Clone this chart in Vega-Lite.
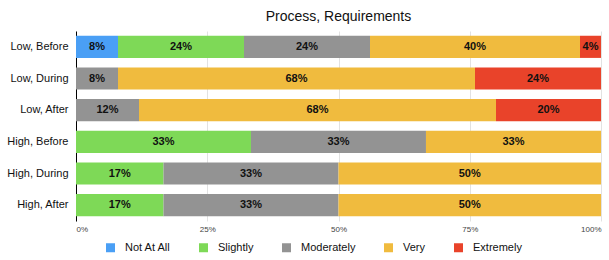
{
  "$schema": "https://vega.github.io/schema/vega-lite/v6.json",
  "width": 525,
  "height": 190,
  "autosize": {"type": "none"},
  "padding": {"left": 76, "right": 8, "top": 31, "bottom": 39},
  "background": "white",
  "config": {"view": {"stroke": null}, "font": "Liberation Sans"},
  "title": {"text": "Process, Requirements", "fontSize": 14, "fontWeight": "normal", "color": "#111", "offset": 7},
  "data": {"values": [
    {"group": "Low, Before", "level": "Not At All", "rank": 1, "value": 0.08},
    {"group": "Low, Before", "level": "Slightly", "rank": 2, "value": 0.24},
    {"group": "Low, Before", "level": "Moderately", "rank": 3, "value": 0.24},
    {"group": "Low, Before", "level": "Very", "rank": 4, "value": 0.40},
    {"group": "Low, Before", "level": "Extremely", "rank": 5, "value": 0.04},
    {"group": "Low, During", "level": "Moderately", "rank": 3, "value": 0.08},
    {"group": "Low, During", "level": "Very", "rank": 4, "value": 0.68},
    {"group": "Low, During", "level": "Extremely", "rank": 5, "value": 0.24},
    {"group": "Low, After", "level": "Moderately", "rank": 3, "value": 0.12},
    {"group": "Low, After", "level": "Very", "rank": 4, "value": 0.68},
    {"group": "Low, After", "level": "Extremely", "rank": 5, "value": 0.20},
    {"group": "High, Before", "level": "Slightly", "rank": 2, "value": 0.3333},
    {"group": "High, Before", "level": "Moderately", "rank": 3, "value": 0.3333},
    {"group": "High, Before", "level": "Very", "rank": 4, "value": 0.3334},
    {"group": "High, During", "level": "Slightly", "rank": 2, "value": 0.1667},
    {"group": "High, During", "level": "Moderately", "rank": 3, "value": 0.3333},
    {"group": "High, During", "level": "Very", "rank": 4, "value": 0.50},
    {"group": "High, After", "level": "Slightly", "rank": 2, "value": 0.1667},
    {"group": "High, After", "level": "Moderately", "rank": 3, "value": 0.3333},
    {"group": "High, After", "level": "Very", "rank": 4, "value": 0.50}
  ]},
  "transform": [
    {"stack": "value", "groupby": ["group"], "sort": [{"field": "rank", "order": "ascending"}], "as": ["v0", "v1"]},
    {"calculate": "(datum.v0 + datum.v1) / 2", "as": "mid"}
  ],
  "encoding": {
    "y": {
      "field": "group", "type": "nominal",
      "sort": ["Low, Before", "Low, During", "Low, After", "High, Before", "High, During", "High, After"],
      "scale": {"paddingInner": 0.3, "paddingOuter": 0.15},
      "axis": {"title": null, "ticks": false, "domainColor": "#000", "domainWidth": 1, "labelFontSize": 11, "labelColor": "#111", "labelPadding": 8}
    }
  },
  "layer": [
    {
      "mark": {"type": "bar"},
      "encoding": {
        "x": {
          "field": "v0", "type": "quantitative",
          "scale": {"domain": [0, 1], "nice": false},
          "axis": {"title": null, "format": ".0%", "values": [0, 0.25, 0.5, 0.75, 1], "grid": true, "gridColor": "#e2e2e2", "domain": false, "ticks": false, "labelFontSize": 8, "labelColor": "#444", "labelPadding": 4}
        },
        "x2": {"field": "v1"},
        "color": {
          "field": "level", "type": "nominal",
          "scale": {
            "domain": ["Not At All", "Slightly", "Moderately", "Very", "Extremely"],
            "range": ["#4A9FF5", "#7ED957", "#939393", "#F0BB3E", "#E9432A"]
          },
          "legend": {"title": null, "orient": "none", "legendX": 29, "legendY": 211, "direction": "horizontal", "symbolType": "square", "symbolSize": 81, "symbolStrokeWidth": 0, "labelFontSize": 11, "labelColor": "#111", "labelOffset": 9, "columnPadding": 27}
        }
      }
    },
    {
      "mark": {"type": "text", "fontWeight": "bold", "fontSize": 11, "color": "#111"},
      "encoding": {
        "x": {"field": "mid", "type": "quantitative"},
        "text": {"field": "value", "type": "quantitative", "format": ".0%"}
      }
    }
  ]
}
